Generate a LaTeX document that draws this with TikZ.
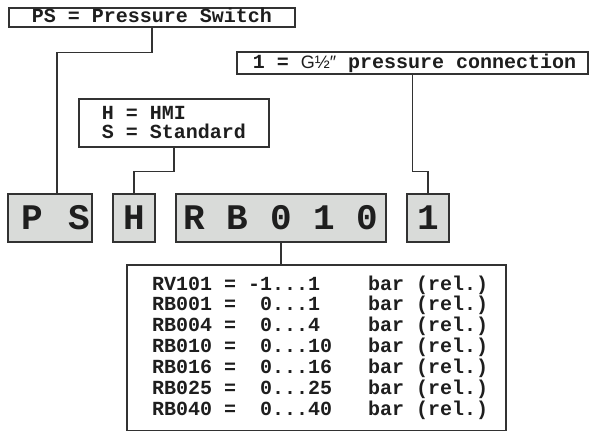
\documentclass[tikz,border=0pt]{standalone}
\usepackage{fontspec}
\setmonofont{Liberation Mono}
\newfontfamily\sansg{Liberation Sans}
\definecolor{strokec}{RGB}{50,50,50}
\definecolor{boxgray}{RGB}{217,219,217}
\definecolor{textc}{RGB}{30,30,30}
\begin{document}
\begin{tikzpicture}[x=1pt,y=-1pt,
  defbox/.style={draw=strokec, fill=white, line width=1.1pt, inner sep=0pt, text=textc,
    font=\ttfamily\bfseries\fontsize{20}{19}\selectfont},
  codebox/.style={draw=strokec, fill=boxgray, line width=1.1pt, inner sep=0pt, text=textc,
    minimum height=48pt, text height=23.5pt, text depth=0pt,
    font=\ttfamily\bfseries\fontsize{36}{36}\selectfont},
  rowtext/.style={inner sep=0pt, text=textc, anchor=base west, font=\ttfamily\bfseries\fontsize{20}{20}\selectfont},
  link/.style={draw=strokec, line width=1.1pt}
]
\useasboundingbox (0,0) rectangle (591,432);
% definition boxes
\node[defbox, minimum width=286pt, minimum height=19pt, text height=14pt, text depth=4pt] (psdef) at (152,17.5) {PS~=~Pressure~Switch};
\node[defbox, minimum width=190pt, minimum height=48pt, align=left] (hsdef) at (174,123) {H~=~HMI\\S~=~Standard};
\node[defbox, minimum width=351pt, minimum height=22pt, text height=14pt, text depth=4pt] (onedef) at (412.5,63) {\hspace*{4pt}1~=~{\sansg\mdseries\fontsize{18}{18}\selectfont G½″}~pressure~connection};
% code boxes
\node[codebox, minimum width=84pt] (psbox) at (50,218) {\hspace*{12pt}P\hspace{24.9pt}S};
\node[codebox, minimum width=42pt] (hbox) at (134,218) {H};
\node[codebox, minimum width=210pt] (rbbox) at (281,218) {R~B~0~1~0};
\node[codebox, minimum width=42pt] (onebox) at (428,218) {1};
% range table
\node[draw=strokec, fill=white, line width=1.1pt, minimum width=379pt, minimum height=165.6pt, inner sep=0pt] (table) at (316.5,347.8) {};
\node[rowtext] (row1) at (152,290.0) {RV101~=~-1...1~~~~bar~(rel.)};
\node[rowtext] (row2) at (152,310.8) {RB001~=~~0...1~~~~bar~(rel.)};
\node[rowtext] (row3) at (152,331.7) {RB004~=~~0...4~~~~bar~(rel.)};
\node[rowtext] (row4) at (152,352.5) {RB010~=~~0...10~~~bar~(rel.)};
\node[rowtext] (row5) at (152,373.3) {RB016~=~~0...16~~~bar~(rel.)};
\node[rowtext] (row6) at (152,394.2) {RB025~=~~0...25~~~bar~(rel.)};
\node[rowtext] (row7) at (152,415.0) {RB040~=~~0...40~~~bar~(rel.)};
% connectors
\draw[link] (psdef.south) -- ++(0,25) -| ([xshift=7pt]psbox.north);
\draw[link] (hsdef.south) -- ++(0,24) -| (hbox.north);
\draw[link] (onedef.south) -- ++(0,97) -| (onebox.north);
\draw[link] (rbbox.south) -- (rbbox.south |- table.north);
\end{tikzpicture}
\end{document}
